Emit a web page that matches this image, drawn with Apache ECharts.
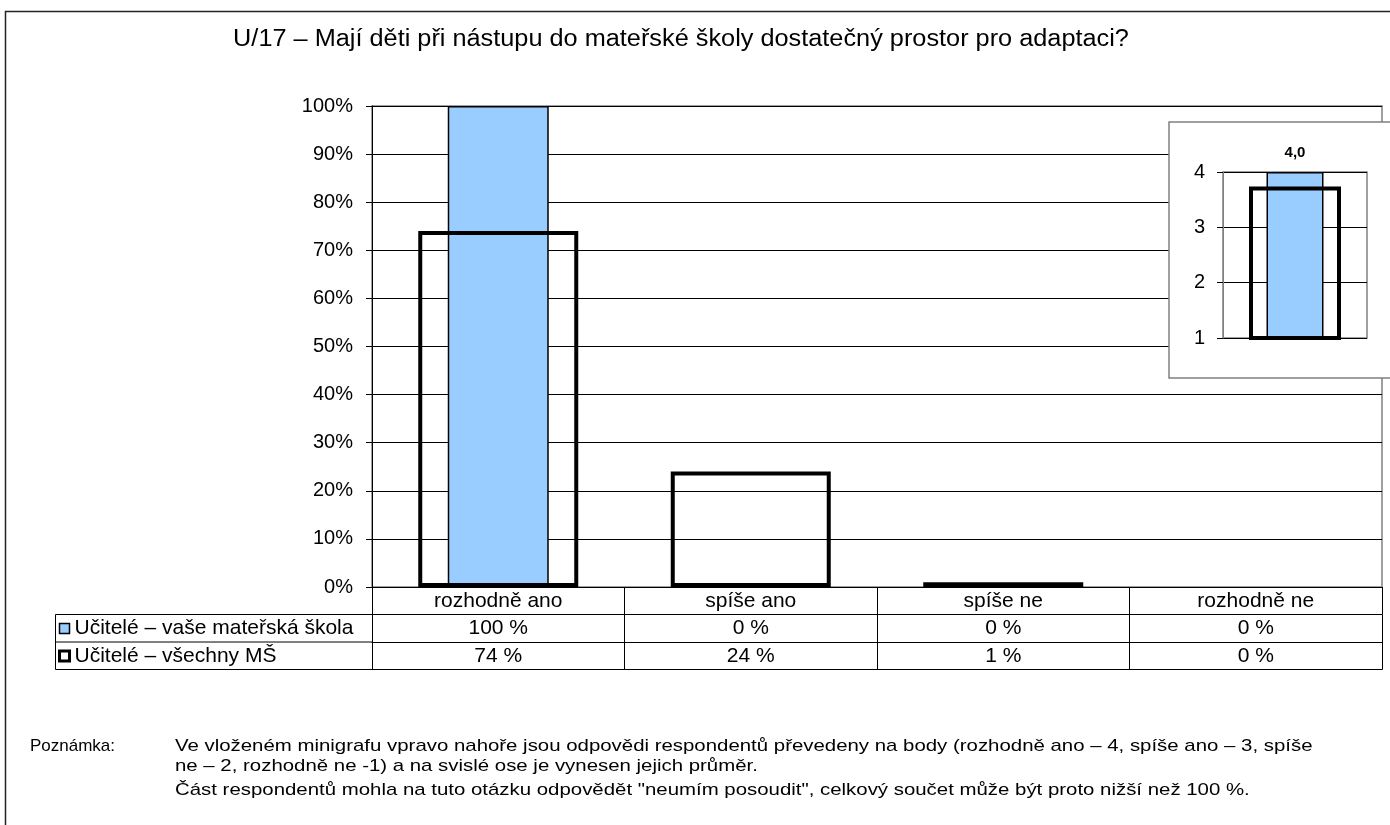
<!DOCTYPE html>
<html>
<head>
<meta charset="utf-8">
<script src="https://cdn.jsdelivr.net/npm/echarts@6/dist/echarts.min.js"></script>
<style>
  html, body { margin: 0; padding: 0; background: #fff; }
  #chart { width: 1390px; height: 825px; }
</style>
</head>
<body>
<div id="chart"></div>
<script>
// data
var categories = ["rozhodně ano", "spíše ano", "spíše ne", "rozhodně ne"];
var seriesNames = ["Učitelé – vaše mateřská škola", "Učitelé – všechny MŠ"];
var schoolValues = [100, 0, 0, 0];
var allValues = [74, 24, 1, 0];
// minigraph: average points (4 = rozhodně ano ... 1 = rozhodně ne)
var insetSchool = [4.0];
var insetAll = [3.74];
var titleText = "U/17 – Mají děti při nástupu do mateřské školy dostatečný prostor pro adaptaci?";
var noteLabel = "Poznámka:";
var noteLines = [
  "Ve vloženém minigrafu vpravo nahoře jsou odpovědi respondentů převedeny na body (rozhodně ano – 4, spíše ano – 3, spíše",
  "ne – 2, rozhodně ne -1) a na svislé ose je vynesen jejich průměr.",
  "Část respondentů mohla na tuto otázku odpovědět \"neumím posoudit\", celkový součet může být proto nižší než 100 %."
];

var font = "Liberation Sans";
var rowH = 27.5;
var blue = "#99ccff";

// zero values are not drawn in the original
function hideZero(arr) {
  return arr.map(function (v) { return v === 0 ? "-" : v; });
}

// the data table under the plot is built from stacked category axes
function tableAxis(offset, formatter, showTick) {
  return {
    type: "category",
    gridIndex: 0,
    position: "bottom",
    offset: offset,
    data: categories,
    axisLine: { show: true, onZero: false, lineStyle: { color: "#000", width: 1 } },
    axisTick: { show: showTick, length: rowH, lineStyle: { color: "#000", width: 1 } },
    axisLabel: {
      show: !!formatter,
      formatter: formatter,
      interval: 0,
      margin: rowH / 2,
      verticalAlign: "middle",
      fontFamily: font,
      fontSize: 21,
      color: "#000"
    },
    splitLine: { show: false }
  };
}

function noteText(x, y, text, sx) {
  return {
    type: "text", z: 3, x: x, y: y, scaleX: sx, silent: true,
    style: { text: text, fontFamily: font, fontSize: 17, fill: "#000", textVerticalAlign: "middle" }
  };
}

var chart = echarts.init(document.getElementById("chart"));

var option = {
  animation: false,
  backgroundColor: "#fff",
  grid: [
    { left: 372, right: 8, top: 106, bottom: 238, show: true, borderColor: "#808080", borderWidth: 1.5 },
    { left: 1223, top: 172, width: 144, height: 166, show: true, borderColor: "#808080", borderWidth: 1.5, z: 10 }
  ],
  legend: {
    orient: "vertical",
    left: 58,
    top: 587 + rowH + 3,
    padding: 0,
    itemWidth: 10,
    itemHeight: 10,
    itemGap: rowH - 22,
    selectedMode: false,
    textStyle: { fontFamily: font, fontSize: 21, color: "#000", lineHeight: 22 },
    data: [
      { name: seriesNames[0], icon: "rect", itemStyle: { color: blue, borderColor: "#000", borderWidth: 1.5 } },
      { name: seriesNames[1], icon: "rect", itemStyle: { color: "#fff", borderColor: "#000", borderWidth: 3 } }
    ]
  },
  xAxis: [
    tableAxis(0, function (v) { return v; }, true),
    tableAxis(rowH, function (v, i) { return schoolValues[i] + " %"; }, true),
    tableAxis(rowH * 2, function (v, i) { return allValues[i] + " %"; }, true),
    tableAxis(rowH * 3, null, false),
    { type: "category", gridIndex: 1, data: [""], show: false, z: 10 },
    { type: "category", gridIndex: 1, data: [""], show: false, z: 10 }
  ],
  yAxis: [
    {
      type: "value",
      gridIndex: 0,
      min: 0,
      max: 100,
      interval: 10,
      axisLine: { show: true, lineStyle: { color: "#000", width: 1 } },
      axisTick: { show: true, length: 6, lineStyle: { color: "#000" } },
      axisLabel: { formatter: "{value}%", margin: 19, fontFamily: font, fontSize: 20, color: "#000" },
      splitLine: { show: true, lineStyle: { color: "#000", width: 1 } }
    },
    {
      type: "value",
      gridIndex: 1,
      min: 1,
      max: 4,
      interval: 1,
      z: 10,
      axisLine: { show: true, lineStyle: { color: "#808080", width: 1 } },
      axisTick: { show: true, length: 6, lineStyle: { color: "#000" } },
      axisLabel: { margin: 18, fontFamily: font, fontSize: 20, color: "#000" },
      splitLine: { show: true, lineStyle: { color: "#000", width: 1 } }
    }
  ],
  series: [
    {
      name: seriesNames[0],
      type: "bar",
      xAxisIndex: 0,
      yAxisIndex: 0,
      barWidth: 101,
      data: hideZero(schoolValues),
      itemStyle: { color: blue, borderColor: "#000", borderWidth: 1.5 }
    },
    {
      name: seriesNames[1],
      type: "bar",
      xAxisIndex: 1,
      yAxisIndex: 0,
      barWidth: 160,
      data: hideZero(allValues),
      itemStyle: { color: "rgba(0,0,0,0)", borderColor: "#000", borderWidth: 4 }
    },
    {
      name: seriesNames[0],
      type: "bar",
      xAxisIndex: 4,
      yAxisIndex: 1,
      barWidth: 57,
      z: 11,
      data: insetSchool,
      itemStyle: { color: blue, borderColor: "#000", borderWidth: 1.5 },
      label: {
        show: true,
        position: "top",
        distance: 12,
        formatter: function (p) { return p.value.toFixed(1).replace(".", ","); },
        fontFamily: font,
        fontSize: 15,
        fontWeight: "bold",
        color: "#000"
      }
    },
    {
      name: seriesNames[1],
      type: "bar",
      xAxisIndex: 5,
      yAxisIndex: 1,
      barWidth: 92,
      z: 12,
      data: insetAll,
      itemStyle: { color: "rgba(0,0,0,0)", borderColor: "#000", borderWidth: 4 }
    }
  ],
  graphic: [
    // outer frame
    { type: "rect", z: 0, silent: true, shape: { x: 5.5, y: 11.5, width: 1500, height: 900 },
      style: { fill: "none", stroke: "#222", lineWidth: 1.5 } },
    // inset box
    { type: "rect", z: 5, silent: true, shape: { x: 1169, y: 122, width: 240, height: 256 },
      style: { fill: "#fff", stroke: "#808080", lineWidth: 1.5 } },
    // left column of the data table
    { type: "rect", z: 3, silent: true, shape: { x: 55.5, y: 587 + rowH, width: 317, height: rowH * 2 },
      style: { fill: "none", stroke: "#000", lineWidth: 1 } },
    { type: "line", z: 3, silent: true, shape: { x1: 55.5, y1: 587 + rowH * 2, x2: 372, y2: 587 + rowH * 2 },
      style: { stroke: "#000", lineWidth: 1 } },
    // title
    { type: "text", z: 3, x: 681, y: 40, scaleX: 1.1, silent: true,
      style: { text: titleText, fontFamily: font, fontSize: 23, fill: "#000", textAlign: "center", textVerticalAlign: "middle" } },
    // note
    noteText(30, 746, noteLabel, 1),
    noteText(175, 746, noteLines[0], 1.2),
    noteText(175, 766, noteLines[1], 1.2),
    noteText(175, 790, noteLines[2], 1.2)
  ]
};

chart.setOption(option);
</script>
</body>
</html>
